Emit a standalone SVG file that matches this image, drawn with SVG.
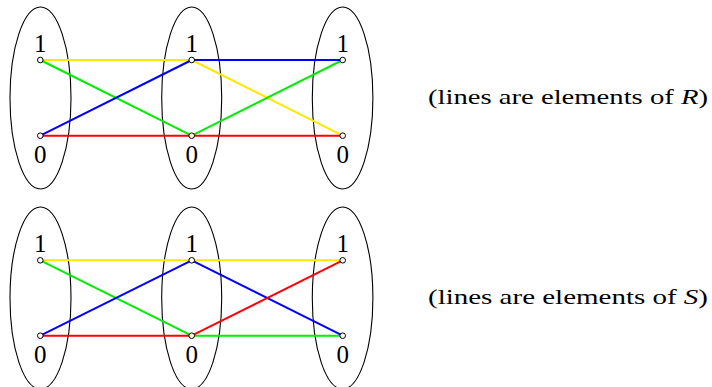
<svg xmlns="http://www.w3.org/2000/svg" width="712" height="387" viewBox="0 0 712 387">
<style>
.ell{fill:none;stroke:#000;stroke-width:1.1}
.nd{fill:#fff;stroke:#000;stroke-width:1}
.lbl{font-family:"Liberation Serif","Times New Roman",serif;font-size:25px;text-anchor:middle;fill:#000}
.cap{font-family:"Liberation Serif","Times New Roman",serif;font-size:21px;fill:#000}
.e{fill:none;stroke-width:2}
.y{stroke:#ffe800}.g{stroke:#00ee00}.b{stroke:#0000ff}.r{stroke:#ff0000}
</style>
<g id="top-sets">
<ellipse class="ell" cx="40.5" cy="98" rx="30.5" ry="91"/>
<ellipse class="ell" cx="191.7" cy="98" rx="30" ry="91"/>
<ellipse class="ell" cx="342.6" cy="98" rx="30.3" ry="91"/>
</g>
<g id="bottom-sets">
<ellipse class="ell" cx="40.5" cy="298" rx="30.5" ry="91"/>
<ellipse class="ell" cx="191.7" cy="298" rx="30" ry="91"/>
<ellipse class="ell" cx="342.6" cy="298" rx="30.3" ry="91"/>
</g>
<g id="connectors-R">
<line class="e y" x1="40.3" y1="60" x2="191.7" y2="60"/>
<line class="e y" x1="191.7" y1="60" x2="342.7" y2="135.7"/>
<line class="e g" x1="40.3" y1="60" x2="191.7" y2="135.7"/>
<line class="e g" x1="191.7" y1="135.7" x2="342.7" y2="60"/>
<line class="e b" x1="40.3" y1="135.7" x2="191.7" y2="60"/>
<line class="e b" x1="191.7" y1="60" x2="342.7" y2="60"/>
<line class="e r" x1="40.3" y1="135.7" x2="342.7" y2="135.7"/>
</g>
<g id="connectors-S">
<line class="e y" x1="40.3" y1="260.3" x2="342.7" y2="260.3"/>
<line class="e g" x1="40.3" y1="260.3" x2="191.7" y2="335.7"/>
<line class="e g" x1="191.7" y1="335.7" x2="342.7" y2="335.7"/>
<line class="e b" x1="40.3" y1="335.7" x2="191.7" y2="260.3"/>
<line class="e b" x1="191.7" y1="260.3" x2="342.7" y2="335.7"/>
<line class="e r" x1="40.3" y1="335.7" x2="191.7" y2="335.7"/>
<line class="e r" x1="191.7" y1="335.7" x2="342.7" y2="260.3"/>
</g>
<g id="R-a1"><circle class="nd" cx="40.3" cy="60" r="2.8"/><text class="lbl" x="40.3" y="52">1</text></g>
<g id="R-a0"><circle class="nd" cx="40.3" cy="135.7" r="2.8"/><text class="lbl" x="40.3" y="163">0</text></g>
<g id="R-b1"><circle class="nd" cx="191.7" cy="60" r="2.8"/><text class="lbl" x="191.7" y="52">1</text></g>
<g id="R-b0"><circle class="nd" cx="191.7" cy="135.7" r="2.8"/><text class="lbl" x="191.7" y="163">0</text></g>
<g id="R-c1"><circle class="nd" cx="342.7" cy="60" r="2.8"/><text class="lbl" x="342.7" y="52">1</text></g>
<g id="R-c0"><circle class="nd" cx="342.7" cy="135.7" r="2.8"/><text class="lbl" x="342.7" y="163">0</text></g>
<g id="S-a1"><circle class="nd" cx="40.3" cy="260.3" r="2.8"/><text class="lbl" x="40.3" y="252">1</text></g>
<g id="S-a0"><circle class="nd" cx="40.3" cy="335.7" r="2.8"/><text class="lbl" x="40.3" y="363">0</text></g>
<g id="S-b1"><circle class="nd" cx="191.7" cy="260.3" r="2.8"/><text class="lbl" x="191.7" y="252">1</text></g>
<g id="S-b0"><circle class="nd" cx="191.7" cy="335.7" r="2.8"/><text class="lbl" x="191.7" y="363">0</text></g>
<g id="S-c1"><circle class="nd" cx="342.7" cy="260.3" r="2.8"/><text class="lbl" x="342.7" y="252">1</text></g>
<g id="S-c0"><circle class="nd" cx="342.7" cy="335.7" r="2.8"/><text class="lbl" x="342.7" y="363">0</text></g>
<g id="caption-R"><text class="cap" x="428" y="104" textLength="280" lengthAdjust="spacingAndGlyphs">(lines are elements of <tspan font-style="italic">R</tspan>)</text></g>
<g id="caption-S"><text class="cap" x="428" y="304" textLength="280" lengthAdjust="spacingAndGlyphs">(lines are elements of <tspan font-style="italic">S</tspan>)</text></g>
</svg>
